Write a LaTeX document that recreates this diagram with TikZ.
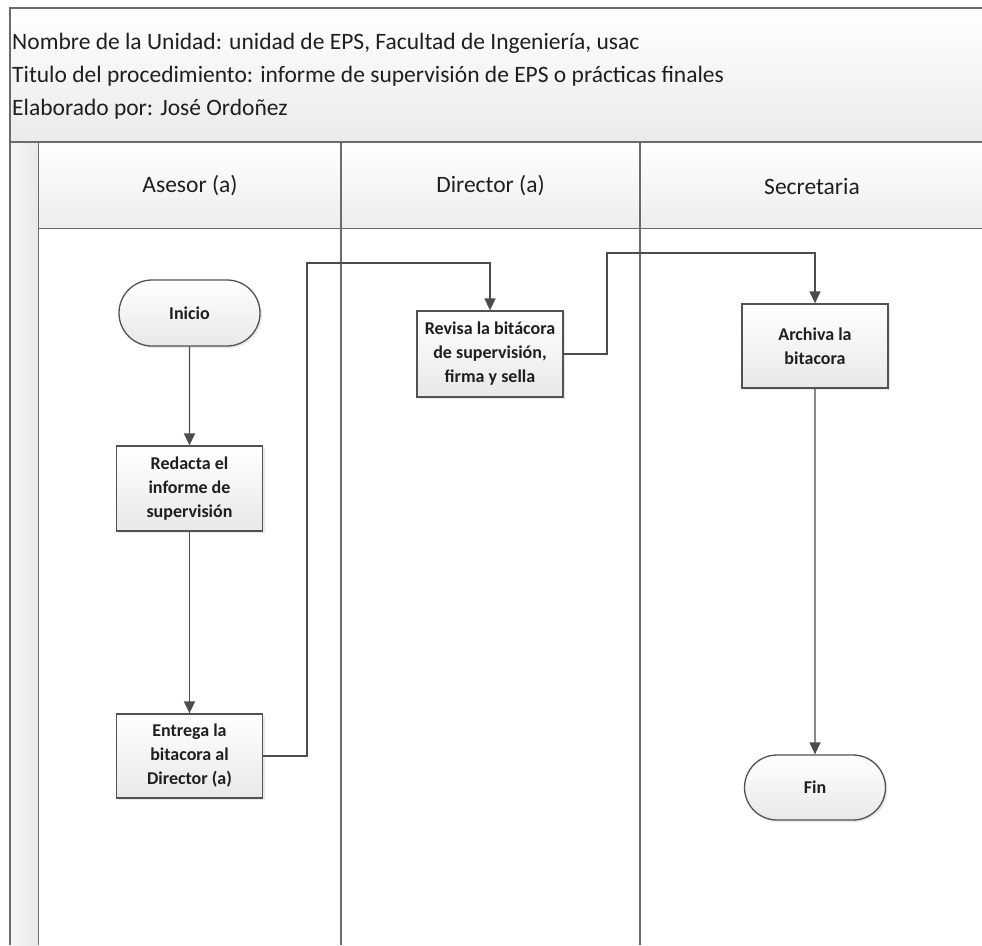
\documentclass[tikz,border=0pt]{standalone}
\usepackage{fontspec}
\setmainfont{Carlito}
\usetikzlibrary{arrows.meta,shapes.misc,shadows}

\begin{document}
\begin{tikzpicture}[x=1pt, y=-1pt,
  every node/.style={font=\fontsize{18}{24}\selectfont\bfseries, text=black!88},
  proc/.style={draw=black!68, line width=1.3pt, align=center, minimum width=146pt,
    minimum height=85pt, inner sep=2pt, top color=white, bottom color=black!9,
    drop shadow={shadow xshift=2pt, shadow yshift=-2pt, opacity=0.18, fill=black!50}},
  term/.style={proc, rounded rectangle, minimum width=145pt, minimum height=66pt},
  arr/.style={-{Triangle[length=12pt,width=11pt]}, line width=1.4pt, draw=black!70},
  marco/.style={line width=1.6pt, draw=black!58},
  lbl/.style={font=\fontsize{23.5}{33}\selectfont, text=black!88, inner sep=0pt}
]
\useasboundingbox (0,0) rectangle (982,945);
\fill[top color=white, bottom color=black!8] (10,8) rectangle (982,142);
\fill[left color=black!3, right color=black!9] (10,142) rectangle (38.5,945);
\fill[top color=white, bottom color=black!7] (38.5,142) rectangle (982,228.5);
\draw[marco] (982,8) -- (10,8) -- (10,945);
\draw[marco] (10,142) -- (982,142);
\draw[marco] (38.5,228.5) -- (982,228.5);
\draw[marco] (38.5,142) -- (38.5,945);
\draw[marco] (341,142) -- (341,945);
\draw[marco] (640,142) -- (640,945);

\node[lbl, anchor=base west] (nombre) at (12,49) {Nombre de la Unidad: unidad de EPS, Facultad de Ingeniería, usac};
\node[lbl, anchor=base west] (titulo) at (12,82) {Titulo del procedimiento: informe de supervisión de EPS o prácticas finales};
\node[lbl, anchor=base west] (autor) at (12,115) {Elaborado por: José Ordoñez};
\node[lbl] (asesor) at (190,186) {Asesor (a)};
\node[lbl] (director) at (490.5,186) {Director (a)};
\node[lbl] (secretaria) at (812,186) {Secretaria};

\node[term] (inicio) at (189.5,313) {Inicio};
\node[proc] (redacta) at (189.5,488.5) {Redacta el\\informe de\\supervisión};
\node[proc, minimum height=84pt] (entrega) at (189.5,756) {Entrega la\\bitacora al\\Director (a)};
\node[proc, minimum height=86pt] (revisa) at (490,354) {Revisa la bitácora\\de supervisión,\\firma y sella};
\node[proc, minimum height=84pt] (archiva) at (815,346) {Archiva la\\bitacora};
\node[term, minimum height=65pt] (fin) at (815,787.5) {Fin};
\coordinate (codo1) at (307,263);
\coordinate (codo2) at (607,253);

\draw[arr] (inicio) -- (redacta);
\draw[arr] (redacta) -- (entrega);
\draw[arr] (entrega.east) -| (codo1) -| (revisa.north);
\draw[arr] (revisa.east) -| (codo2) -| (archiva.north);
\draw[arr] (archiva) -- (fin);
\end{tikzpicture}
\end{document}
